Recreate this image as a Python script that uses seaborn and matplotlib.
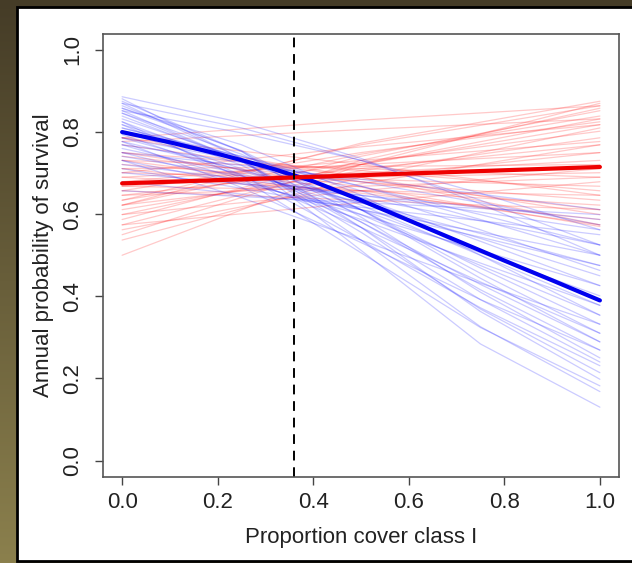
import numpy as np
import pandas as pd
import matplotlib.pyplot as plt
import seaborn as sns
from matplotlib.patches import Rectangle

# values
# thin blue draws, at x = 0, 0.25, 0.5, 0.75, 1
blue_x = [0.0, 0.25, 0.5, 0.75, 1.0]
blue_y0 = [0.881, 0.870, 0.864, 0.858, 0.858, 0.852, 0.846, 0.870, 0.839, 0.832,
           0.852, 0.825, 0.818, 0.818, 0.810, 0.802, 0.802, 0.794, 0.786, 0.786,
           0.777, 0.769, 0.769, 0.760, 0.750, 0.750, 0.741, 0.731, 0.721, 0.711,
           0.701, 0.679, 0.657, 0.875, 0.825, 0.731, 0.846, 0.810, 0.777, 0.886]
blue_yq1 = [0.736, 0.736, 0.753, 0.755, 0.769, 0.729, 0.746, 0.810, 0.729, 0.736,
            0.798, 0.719, 0.731, 0.695, 0.734, 0.711, 0.741, 0.693, 0.706, 0.731,
            0.708, 0.685, 0.726, 0.698, 0.679, 0.719, 0.693, 0.674, 0.685, 0.663,
            0.674, 0.649, 0.643, 0.753, 0.687, 0.640, 0.729, 0.741, 0.665, 0.823]
blue_ymid = [0.512, 0.537, 0.593, 0.611, 0.646, 0.556, 0.611, 0.731, 0.581, 0.611,
             0.731, 0.581, 0.622, 0.537, 0.640, 0.599, 0.668, 0.568, 0.611, 0.668,
             0.628, 0.587, 0.679, 0.628, 0.599, 0.685, 0.640, 0.611, 0.646, 0.611,
             0.646, 0.617, 0.628, 0.568, 0.506, 0.537, 0.568, 0.657, 0.531, 0.736]
blue_yq3 = [0.284, 0.326, 0.410, 0.444, 0.500, 0.369, 0.456, 0.634, 0.416, 0.469,
            0.651, 0.429, 0.500, 0.372, 0.534, 0.475, 0.587, 0.435, 0.506, 0.599,
            0.541, 0.481, 0.628, 0.553, 0.512, 0.649, 0.584, 0.544, 0.605, 0.556,
            0.617, 0.584, 0.614, 0.363, 0.324, 0.432, 0.392, 0.562, 0.392, 0.625]
blue_y1 = [0.130, 0.168, 0.250, 0.289, 0.354, 0.214, 0.310, 0.525, 0.269, 0.332,
           0.562, 0.289, 0.378, 0.231, 0.426, 0.354, 0.500, 0.310, 0.401, 0.525,
           0.450, 0.378, 0.574, 0.475, 0.426, 0.611, 0.525, 0.475, 0.562, 0.500,
           0.587, 0.550, 0.599, 0.198, 0.182, 0.332, 0.240, 0.463, 0.269, 0.500]

# thin red draws, at x = 0, 0.5, 1
red_x = [0.0, 0.5, 1.0]
red_y0 = [0.500, 0.550, 0.574, 0.587, 0.599, 0.611, 0.622, 0.622, 0.634, 0.646,
          0.646, 0.657, 0.668, 0.668, 0.679, 0.679, 0.690, 0.690, 0.701, 0.711,
          0.711, 0.721, 0.731, 0.731, 0.741, 0.750, 0.750, 0.769, 0.786, 0.786,
          0.562, 0.537, 0.599, 0.634, 0.701, 0.657, 0.786, 0.574, 0.777, 0.622]
red_ymid = [0.721, 0.731, 0.721, 0.741, 0.721, 0.706, 0.746, 0.690, 0.726, 0.711,
            0.668, 0.750, 0.701, 0.657, 0.731, 0.690, 0.657, 0.721, 0.685, 0.651,
            0.716, 0.679, 0.657, 0.711, 0.679, 0.666, 0.706, 0.690, 0.690, 0.721,
            0.674, 0.690, 0.657, 0.769, 0.764, 0.634, 0.829, 0.628, 0.806, 0.773]
red_y1 = [0.870, 0.858, 0.832, 0.852, 0.818, 0.786, 0.839, 0.750, 0.802, 0.769,
          0.690, 0.825, 0.731, 0.646, 0.777, 0.701, 0.622, 0.750, 0.668, 0.587,
          0.721, 0.634, 0.574, 0.690, 0.611, 0.570, 0.657, 0.599, 0.574, 0.646,
          0.769, 0.810, 0.711, 0.864, 0.818, 0.611, 0.864, 0.679, 0.832, 0.875]

# posterior mean curves
x_mean = [0.0, 0.1, 0.2, 0.3, 0.4, 0.5, 0.6, 0.7, 0.8, 0.9, 1.0]
blue_mean = [0.800, 0.775, 0.747, 0.716, 0.680, 0.634, 0.585, 0.536, 0.487, 0.439, 0.390]
red_mean = [0.675, 0.679, 0.683, 0.687, 0.691, 0.695, 0.699, 0.703, 0.707, 0.711, 0.715]

cutoff = 0.36


def long_form(xs, cols):
    rows = []
    for i, vals in enumerate(zip(*cols)):
        for xv, yv in zip(xs, vals):
            rows.append({"draw": i, "x": xv, "y": yv})
    return pd.DataFrame(rows)


blue_df = long_form(blue_x, [blue_y0, blue_yq1, blue_ymid, blue_yq3, blue_y1])
red_df = long_form(red_x, [red_y0, red_ymid, red_y1])
mean_df = pd.DataFrame({"x": x_mean * 2,
                        "y": blue_mean + red_mean,
                        "group": ["blue"] * len(x_mean) + ["red"] * len(x_mean)})

sns.set_style("white")
plt.rcParams["font.family"] = ["Liberation Sans", "DejaVu Sans"]

W, H = 632, 563
fig = plt.figure(figsize=(W / 100, H / 100), dpi=100)

# olive backdrop and white slide panel
bg = fig.add_axes([0, 0, 1, 1], zorder=-2)
grad = np.linspace(0, 1, 256)[:, None, None]
top = np.array([0x45, 0x3c, 0x27]) / 255
bot = np.array([0x8b, 0x80, 0x4d]) / 255
bg.imshow(top + grad * (bot - top), aspect="auto", extent=[0, W, H, 0])
bg.add_patch(Rectangle((17, 7), W + 10 - 17, 561 - 7, facecolor="white",
                       edgecolor="black", lw=2))
bg.set_xlim(0, W)
bg.set_ylim(H, 0)
bg.axis("off")

ax = fig.add_axes([103 / W, 1 - 477 / H, 516 / W, 443.5 / H])
ax.set_facecolor("white")

sns.lineplot(data=red_df, x="x", y="y", units="draw", estimator=None,
             color="#ff2020", alpha=0.24, lw=0.9, ax=ax)
sns.lineplot(data=blue_df, x="x", y="y", units="draw", estimator=None,
             color="#2020ff", alpha=0.23, lw=0.9, ax=ax)
sns.lineplot(data=mean_df, x="x", y="y", hue="group", estimator=None,
             palette={"blue": "#0000ee", "red": "#ee0000"}, lw=3,
             legend=False, ax=ax)
ax.axvline(cutoff, color="black", lw=1.4, ls=(0, (5, 3.5)))

ax.set_xlim(-0.04, 1.04)
ax.set_ylim(-0.04, 1.04)
ax.set_xticks([0.0, 0.2, 0.4, 0.6, 0.8, 1.0])
ax.set_yticks([0.0, 0.2, 0.4, 0.6, 0.8, 1.0])
ax.set_xticklabels(["0.0", "0.2", "0.4", "0.6", "0.8", "1.0"])
ax.set_yticklabels(["0.0", "0.2", "0.4", "0.6", "0.8", "1.0"],
                   rotation=90, va="center")
ax.tick_params(axis="both", direction="out", length=6, width=1,
               color="#444444", labelsize=16, labelcolor="#222222",
               left=True, bottom=True)
ax.tick_params(axis="x", pad=5)
ax.tick_params(axis="y", pad=8)
for s in ax.spines.values():
    s.set_color("#555555")
    s.set_linewidth(1.2)

ax.set_xlabel("Proportion cover class I", fontsize=16, color="#222222",
              labelpad=10)
ax.set_ylabel("Annual probability of survival", fontsize=16, color="#222222",
              labelpad=6)

fig.savefig("out.png", dpi=100)
